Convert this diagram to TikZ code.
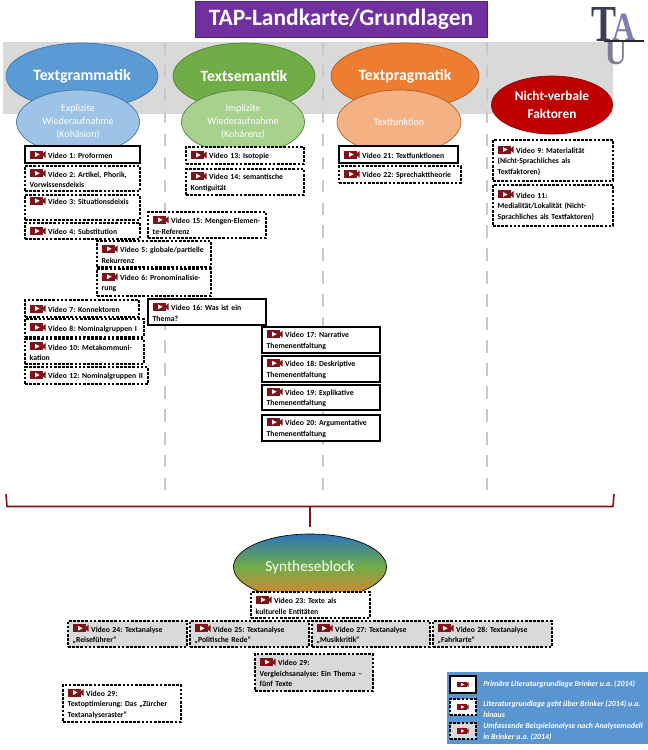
\documentclass[tikz,border=0pt]{standalone}
\usepackage{fontspec}
\setmainfont{Carlito}
\newfontfamily\logofont{Liberation Serif}
\usetikzlibrary{shapes.geometric}
\definecolor{vidred}{HTML}{7F1418}
\definecolor{bandgrey}{HTML}{D9D9D9}
\definecolor{divgrey}{HTML}{C8C8C8}
\definecolor{tapviolet}{HTML}{7030A0}
\definecolor{legblue}{HTML}{5B95D0}
\tikzstyle{vid}=[draw, fill=white, line width=0.8pt, anchor=north west, outer sep=0pt, inner xsep=3.5pt, inner ysep=0pt, align=left, font=\frenchspacing\bfseries\fontsize{5.8}{7.9}\selectfont]
\tikzstyle{dvid}=[vid, dash pattern=on 2pt off 1.1pt]
\tikzstyle{gvid}=[dvid, fill=bandgrey]
\tikzstyle{topic}=[ellipse, inner sep=0pt, align=center, text=white, line width=0.5pt]
\tikzstyle{main}=[topic, font=\bfseries\fontsize{11.8}{15}\selectfont]
\tikzstyle{sub}=[topic, font=\fontsize{7.5}{9.8}\selectfont]
\tikzstyle{legtext}=[anchor=west, inner sep=0pt, align=left, text=white, font=\frenchspacing\bfseries\itshape\fontsize{5.9}{7.9}\selectfont]
\tikzstyle{logo}=[inner sep=0pt, anchor=base]
\tikzset{
    boxsize/.code 2 args={\pgfmathsetmacro\bw{#1*0.75-7}\pgfmathsetmacro\bh{#2*0.75}\tikzset{text width=\bw pt, minimum height=\bh pt}},
    ellsize/.code 2 args={\pgfmathsetmacro\ew{#1*0.75}\pgfmathsetmacro\eh{#2*0.75}\tikzset{minimum width=\ew pt, minimum height=\eh pt}}
}
\newcommand{\vidicon}[1][1]{\tikz[baseline=0.2pt, scale=#1]{
    \fill[vidred] (0pt, 0pt) rectangle (10pt, 6pt);
    \fill[vidred] (10pt, 2pt) -- (12pt, 0.3pt) -- (12pt, 5.7pt) -- (10pt, 4pt) -- cycle;
    \fill[white] (4pt, 1.2pt) -- (7.5pt, 3pt) -- (4pt, 4.8pt) -- cycle;
}\ }
\begin{document}
\begin{tikzpicture}[x=0.75pt, y=-0.75pt]
    \useasboundingbox (0, 0) rectangle (648, 750);
    % header and band
    \fill[bandgrey] (3, 42) rectangle (613, 114);
    \node[fill=tapviolet, draw=tapviolet!70!black, text=white, inner sep=0pt, ellsize={292}{36}, font=\bfseries\fontsize{17.6}{22}\selectfont] (title) at (341, 19) {TAP-Landkarte/Grundlagen};
    % column dividers
    \foreach \x/\name in {165/one, 323/two, 487/three} {
        \coordinate (\name top) at (\x, 42);
        \coordinate (\name bottom) at (\x, 498);
        \draw[divgrey, line width=2.2pt, dash pattern=on 9.5pt off 7.7pt] (\name top) -- (\name bottom);
    }
    % topics
    \node[main, ellsize={152}{66}, fill={rgb,255:red,91;green,155;blue,213}, draw={rgb,255:red,65;green,113;blue,156}] (gram) at (82, 76) {Textgrammatik};
    \node[main, ellsize={142}{66}, fill={rgb,255:red,112;green,173;blue,71}, draw={rgb,255:red,80;green,126;blue,50}] (sem) at (244, 76) {Textsemantik};
    \node[main, ellsize={148}{66}, fill={rgb,255:red,237;green,125;blue,49}, draw={rgb,255:red,174;green,90;blue,33}] (prag) at (405, 76) {Textpragmatik};
    \node[main, ellsize={121}{58}, fill={rgb,255:red,192;green,0;blue,0}, draw={rgb,255:red,140;green,0;blue,0}, font=\bfseries\fontsize{10}{13}\selectfont] (nonverb) at (552, 105) {Nicht-verbale\\Faktoren};
    \node[sub, ellsize={123}{64}, fill={rgb,255:red,157;green,195;blue,230}, draw={rgb,255:red,65;green,113;blue,156}] (expl) at (78, 122) {Explizite\\Wiederaufnahme\\(Kohäsion)};
    \node[sub, ellsize={123}{64}, fill={rgb,255:red,169;green,209;blue,142}, draw={rgb,255:red,80;green,126;blue,50}] (impl) at (243, 122) {Implizite\\Wiederaufnahme\\(Kohärenz)};
    \node[sub, ellsize={124}{64}, fill={rgb,255:red,244;green,177;blue,131}, draw={rgb,255:red,174;green,90;blue,33}] (func) at (399, 122) {Textfunktion};
    % Textgrammatik
    \node[vid, boxsize={115}{17}] (v1) at (25, 146) {\vidicon Video 1: Proformen};
    \node[dvid, boxsize={115}{25}] (v2) at (25, 166) {\vidicon Video 2: Artikel, Phorik,\\Vorwissensdeixis};
    \node[dvid, boxsize={115}{25}] (v3) at (25, 195) {\vidicon Video 3: Situationsdeixis\\\strut};
    \node[dvid, boxsize={115}{16}] (v4) at (25, 223) {\vidicon Video 4: Substitution};
    \node[dvid, boxsize={114}{26}] (v5) at (97, 241) {\vidicon Video 5: globale/partielle\\Rekurrenz};
    \node[dvid, boxsize={114}{27}] (v6) at (97, 269) {\vidicon Video 6: Pronominalisie-\\rung};
    \node[dvid, boxsize={114}{17}] (v7) at (25, 300) {\vidicon Video 7: Konnektoren};
    \node[dvid, boxsize={119}{18}] (v8) at (25, 319) {\vidicon Video 8: Nominalgruppen I};
    \node[dvid, boxsize={119}{25}] (v10) at (25, 339) {\vidicon Video 10: Metakommuni-\\kation};
    \node[dvid, boxsize={123}{17}] (v12) at (25, 367) {\vidicon Video 12: Nominalgruppen II};
    % Textsemantik
    \node[dvid, boxsize={118}{17}] (v13) at (186, 147) {\vidicon Video 13: Isotopie};
    \node[dvid, boxsize={118}{26}] (v14) at (186, 169) {\vidicon Video 14: semantische\\Kontiguität};
    \node[dvid, boxsize={118}{26}] (v15) at (148, 212) {\vidicon Video 15: Mengen-Elemen-\\te-Referenz};
    \node[vid, boxsize={118}{26}] (v16) at (148, 299) {\vidicon Video 16: Was ist ein\\Thema?};
    \node[vid, boxsize={118}{26}] (v17) at (262, 327) {\vidicon Video 17: Narrative\\Themenentfaltung};
    \node[vid, boxsize={118}{26}] (v18) at (262, 356) {\vidicon Video 18: Deskriptive\\Themenentfaltung};
    \node[vid, boxsize={118}{25}] (v19) at (262, 385) {\vidicon Video 19: Explikative\\Themenentfaltung};
    \node[vid, boxsize={118}{26}] (v20) at (262, 415) {\vidicon Video 20: Argumentative\\Themenentfaltung};
    % Textpragmatik and the rest
    \node[vid, boxsize={119}{17}] (v21) at (339, 146) {\vidicon Video 21: Textfunktionen};
    \node[dvid, boxsize={122}{17}] (v22) at (339, 166) {\vidicon Video 22: Sprechakttheorie};
    \node[dvid, boxsize={120}{41}] (v9) at (493, 140) {\vidicon Video 9: Materialität\\(Nicht-Sprachliches als\\Textfaktoren)};
    \node[dvid, boxsize={120}{41}] (v11) at (493, 185) {\vidicon Video 11:\\Medialität/Lokalität (Nicht-\\Sprachliches als Textfaktoren)};
    % brace
    \coordinate (braceL) at (6, 494);
    \coordinate (braceLc) at (7, 506.5);
    \coordinate (braceR) at (614, 494);
    \coordinate (braceRc) at (613, 506.5);
    \coordinate (braceM) at (310, 506.5);
    \coordinate (braceT) at (310, 527);
    \draw[vidred, line width=1.2pt, line join=round] (braceL) -- (braceLc) -- (braceRc) -- (braceR);
    \draw[vidred, line width=1.2pt] (braceM) -- (braceT);
    % synthesis
    \node[ellipse, draw=black, line width=0.5pt, inner sep=0pt, ellsize={153}{66}, top color={rgb,255:red,46;green,117;blue,182}, bottom color={rgb,255:red,237;green,125;blue,49}, middle color={rgb,255:red,112;green,173;blue,71}, text=white, font=\fontsize{11.5}{15}\selectfont] (synth) at (310, 567) {Syntheseblock};
    \node[dvid, boxsize={119}{26}] (v23) at (251, 592) {\vidicon Video 23: Texte als\\kulturelle Entitäten};
    \node[gvid, boxsize={119}{26}] (v24) at (68, 621) {\vidicon Video 24: Textanalyse\\„Reiseführer“};
    \node[gvid, boxsize={119}{26}] (v25) at (190, 621) {\vidicon Video 25: Textanalyse\\„Politische Rede“};
    \node[gvid, boxsize={118}{26}] (v27) at (312, 621) {\vidicon Video 27: Textanalyse\\„Musikkritik“};
    \node[gvid, boxsize={119}{26}] (v28) at (433, 621) {\vidicon Video 28: Textanalyse\\„Fahrkarte“};
    \node[gvid, boxsize={118}{37}] (v29a) at (255, 654) {\vidicon Video 29:\\Vergleichsanalyse: Ein Thema –\\fünf Texte};
    \node[dvid, boxsize={118}{37}] (v29b) at (63, 685) {\vidicon Video 29:\\Textoptimierung: Das „Zürcher\\Textanalyseraster“};
    % legend
    \fill[legblue] (447, 672) rectangle (648, 744);
    \node[vid, boxsize={26}{17}, inner xsep=0pt, text width=19.5pt, align=center] (leg1) at (450, 676) {\vidicon[0.7]};
    \node[dvid, boxsize={26}{16}, inner xsep=0pt, text width=19.5pt, align=center] (leg2) at (450, 699) {\vidicon[0.7]};
    \node[gvid, boxsize={26}{16}, inner xsep=0pt, text width=19.5pt, align=center] (leg3) at (450, 723) {\vidicon[0.7]};
    \node[legtext] (legtext1) at (483, 684) {Primäre Literaturgrundlage Brinker u.a. (2014)};
    \node[legtext] (legtext2) at (483, 709) {Literaturgrundlage geht über Brinker (2014) u.a.\\hinaus};
    \node[legtext] (legtext3) at (483, 732) {Umfassende Beispielanalyse nach Analysemodell\\in Brinker u.a. (2014)};
    % logo
    \node[logo, text={rgb,255:red,125;green,125;blue,150}, font=\logofont\bfseries\fontsize{27}{27}\selectfont, xscale=0.85] (logoU) at (616, 64) {U};
    \coordinate (barL) at (604, 41);
    \coordinate (barR) at (644, 41);
    \draw[black!85, line width=1.6pt] (barL) -- (barR);
    \node[logo, text={rgb,255:red,60;green,62;blue,85}, font=\logofont\bfseries\fontsize{39}{39}\selectfont, xscale=0.72] (logoT) at (604, 41) {T};
    \node[logo, text={rgb,255:red,125;green,125;blue,175}, font=\logofont\bfseries\fontsize{30}{30}\selectfont, xscale=0.8] (logoA) at (624, 40) {A};
\end{tikzpicture}
\end{document}
